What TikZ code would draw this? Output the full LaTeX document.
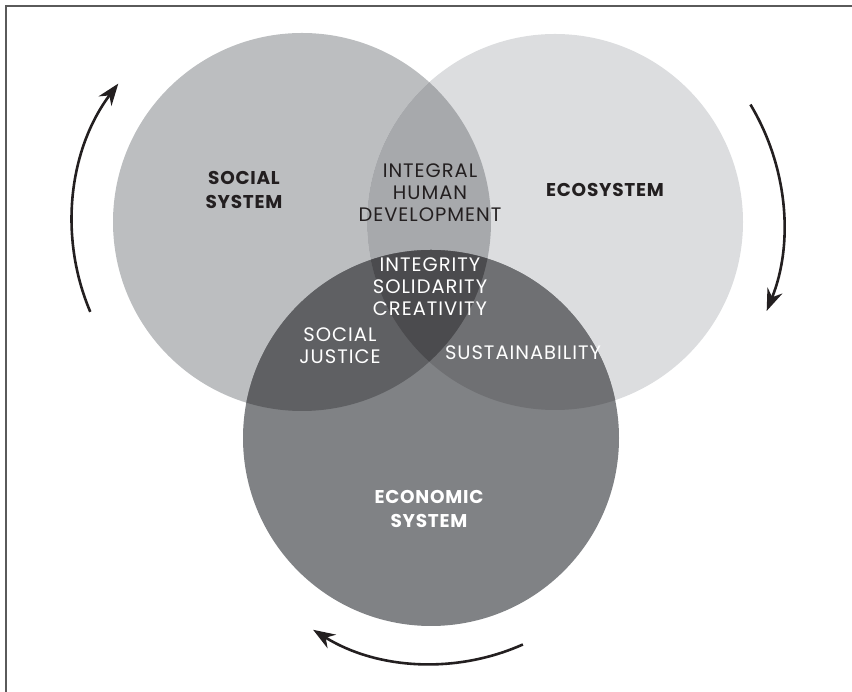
\documentclass[tikz,border=0pt]{standalone}
\usepackage{fontspec}
\setmainfont{Poppins}
\newfontfamily\innerfont{Poppins}[LetterSpace=5]
\newfontfamily\sysfont{Poppins}[LetterSpace=4]
\usetikzlibrary{arrows.meta}
\definecolor{socc}{HTML}{BCBEC0}
\definecolor{ecoc}{HTML}{DCDDDF}
\definecolor{econc}{HTML}{808285}
\definecolor{sec}{HTML}{A7A9AC}
\definecolor{scc}{HTML}{5F6063}
\definecolor{ecc}{HTML}{6F7073}
\definecolor{allc}{HTML}{4B4B4E}
\definecolor{ink}{HTML}{231F20}
\definecolor{framec}{HTML}{5A5A5A}
\tikzset{
  sysdark/.style={font=\sysfont\fontsize{18.5}{24}\selectfont\bfseries, text=ink, align=center},
  syslight/.style={font=\sysfont\fontsize{18.5}{24}\selectfont\bfseries, text=white, align=center},
  inner/.style={font=\innerfont\fontsize{19.5}{22}\selectfont, align=center},
  cyc/.style={line width=2.6pt, draw=ink, -{Stealth[length=22pt,width=16pt]}}
}
\begin{document}
\begin{tikzpicture}[x=1pt,y=1pt]
\useasboundingbox (0,0) rectangle (852,692);
\coordinate (S) at (302,470);
\coordinate (E) at (555,470);
\coordinate (C) at (431,254);
% frame
\draw[framec, line width=1.6pt] (6,0) -- (6,686) -- (852,686);
% circles
\fill[socc] (S) circle (189);
\fill[ecoc] (E) circle (188);
\fill[econc] (C) circle (188);
\begin{scope}
  \clip (S) circle (189);
  \fill[sec] (E) circle (188);
  \fill[scc] (C) circle (188);
\end{scope}
\begin{scope}
  \clip (E) circle (188);
  \fill[ecc] (C) circle (188);
\end{scope}
\begin{scope}
  \clip (S) circle (189);
  \clip (E) circle (188);
  \fill[allc] (C) circle (188);
\end{scope}
% labels
\node[sysdark] (soc) at (244,502) {SOCIAL\\SYSTEM};
\node[sysdark] (eco) at (605,502) {ECOSYSTEM};
\node[syslight] (econ) at (429,183) {ECONOMIC\\SYSTEM};
\node[inner, text=ink] (ihd) at (430,499) {INTEGRAL\\HUMAN\\DEVELOPMENT};
\node[inner, text=white] (isc) at (430,405) {INTEGRITY\\SOLIDARITY\\CREATIVITY};
\node[inner, text=white] (sj) at (340,346) {SOCIAL\\JUSTICE};
\node[inner, text=white] (sus) at (523,339) {SUSTAINABILITY};
% cycle arrows
\draw[cyc] ([shift={(203:230)}]S) arc (203:143:230);
\draw[cyc] ([shift={(31:228)}]E) arc (31:-22:232);
\draw[cyc] ([shift={(-66:226)}]C) arc (-66:-122:224);
\end{tikzpicture}
\end{document}
